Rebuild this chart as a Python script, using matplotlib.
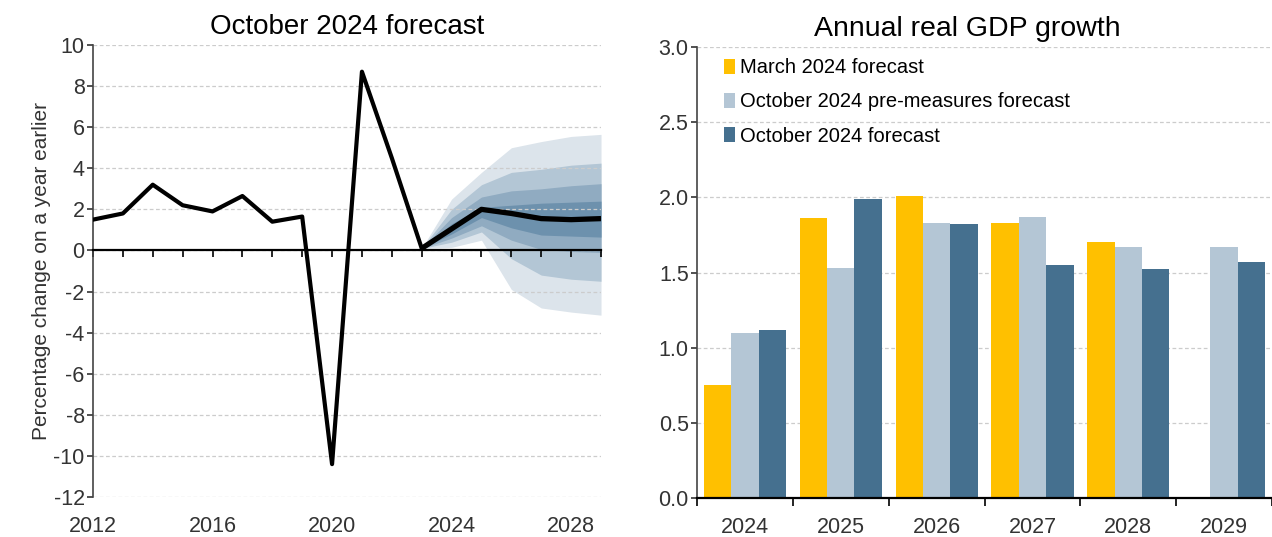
import numpy as np
import matplotlib.pyplot as plt
from matplotlib.ticker import MultipleLocator

plt.rcParams['font.family'] = ['Liberation Sans', 'DejaVu Sans']
plt.rcParams['axes.unicode_minus'] = False

# left panel: GDP growth history and fan
years_hist = [2012, 2013, 2014, 2015, 2016, 2017, 2018, 2019, 2020, 2021, 2022, 2023]
growth_hist = [1.5, 1.8, 3.2, 2.2, 1.9, 2.65, 1.4, 1.65, -10.4, 8.7, 4.5, 0.1]

years_fc = [2023, 2024, 2025, 2026, 2027, 2028, 2029]
growth_fc = [0.1, 1.05, 2.0, 1.8, 1.55, 1.5, 1.55]

# fan bands (lower, upper), outermost first
band_outer_lo = [0.1, 0.15, 0.5, -1.9, -2.8, -3.0, -3.15]
band_outer_hi = [0.1, 2.5, 3.8, 5.0, 5.3, 5.55, 5.65]
band_2_lo = [0.1, 0.4, 0.9, -0.4, -1.2, -1.4, -1.5]
band_2_hi = [0.1, 2.0, 3.2, 3.8, 3.95, 4.15, 4.25]
band_3_lo = [0.1, 0.6, 1.2, 0.5, 0.05, -0.05, -0.1]
band_3_hi = [0.1, 1.6, 2.6, 2.9, 3.0, 3.15, 3.25]
band_4_lo = [0.1, 0.8, 1.6, 1.1, 0.75, 0.7, 0.65]
band_4_hi = [0.1, 1.3, 2.1, 2.2, 2.3, 2.35, 2.4]

# right panel: annual real GDP growth
bar_years = ['2024', '2025', '2026', '2027', '2028', '2029']
march_2024 = [0.75, 1.86, 2.01, 1.83, 1.70, np.nan]
oct_pre = [1.10, 1.53, 1.83, 1.87, 1.67, 1.67]
oct_2024 = [1.12, 1.99, 1.82, 1.55, 1.52, 1.57]

fig = plt.figure(figsize=(12.72, 5.37), dpi=100)

ax1 = fig.add_axes([0.0731, 0.0745, 0.3994, 0.8417])
fan_cols = ['#dce4eb', '#b3c6d5', '#90abc1', '#6d91ad']
bands = [(band_outer_lo, band_outer_hi), (band_2_lo, band_2_hi),
         (band_3_lo, band_3_hi), (band_4_lo, band_4_hi)]
for (lo, hi), c in zip(bands, fan_cols):
    ax1.fill_between(years_fc, lo, hi, color=c, lw=0, zorder=1)
ax1.plot(years_hist, growth_hist, color='black', lw=3.0, zorder=3)
ax1.plot(years_fc, growth_fc, color='black', lw=3.8, zorder=3, solid_capstyle='butt')

ax1.set_xlim(2012, 2029)
ax1.set_ylim(-12, 10)
ax1.yaxis.set_major_locator(MultipleLocator(2))
ax1.grid(axis='y', color='#cccccc', ls=(0, (3, 2)), lw=0.9, zorder=0)
for s in ['top', 'right']:
    ax1.spines[s].set_visible(False)
ax1.spines['bottom'].set_position(('data', 0))
ax1.spines['bottom'].set_linewidth(1.6)
ax1.spines['left'].set_linewidth(1.2)
ax1.spines['left'].set_color('#444444')
ax1.set_xticks(range(2012, 2030))
ax1.tick_params(axis='x', length=5, width=1.2, labelbottom=False, direction='out')
ax1.tick_params(axis='y', length=4, width=1.2, labelsize=15.5, colors='#333333', pad=2)
sec = ax1.secondary_xaxis(0)
sec.set_xticks([2012, 2016, 2020, 2024, 2028])
sec.tick_params(length=0, labelsize=15.5, pad=14, colors='#333333')
sec.spines['bottom'].set_visible(False)
ax1.set_ylabel('Percentage change on a year earlier', fontsize=15, color='#333333', labelpad=2)
ax1.set_title('October 2024 forecast', fontsize=20, pad=8)

ax2 = fig.add_axes([0.548, 0.0726, 0.452, 0.8399])
x = np.arange(len(bar_years))
w = 0.286
ax2.bar(x - w, march_2024, w, color='#ffc000', label='March 2024 forecast', zorder=2)
ax2.bar(x, oct_pre, w, color='#b4c6d5', label='October 2024 pre-measures forecast', zorder=2)
ax2.bar(x + w, oct_2024, w, color='#45708f', label='October 2024 forecast', zorder=2)
ax2.set_xlim(-0.5, 5.5)
ax2.set_ylim(0, 3.0)
ax2.yaxis.set_major_locator(MultipleLocator(0.5))
ax2.yaxis.set_major_formatter('{x:.1f}')
ax2.grid(axis='y', color='#cccccc', ls=(0, (3, 2)), lw=0.9, zorder=0)
for s in ['top', 'right']:
    ax2.spines[s].set_visible(False)
ax2.spines['bottom'].set_linewidth(1.6)
ax2.spines['left'].set_linewidth(1.2)
ax2.spines['left'].set_color('#444444')
ax2.set_xticks(x)
ax2.set_xticklabels(bar_years)
ax2.set_xticks(np.arange(-0.5, 6, 1), minor=True)
ax2.tick_params(axis='x', which='major', length=0, labelsize=15.5, pad=14, colors='#333333')
ax2.tick_params(axis='x', which='minor', length=6, width=1.2)
ax2.tick_params(axis='y', length=4, width=1.2, labelsize=15.5, colors='#333333', pad=2)
ax2.set_title('Annual real GDP growth', fontsize=20.5, pad=8, x=0.47)
leg = ax2.legend(loc='upper left', bbox_to_anchor=(0.015, 1.015), frameon=False, fontsize=14.5,
                 handlelength=0.55, handleheight=0.8, handletextpad=0.25, labelspacing=0.75)

fig.savefig('out.png', dpi=100)
